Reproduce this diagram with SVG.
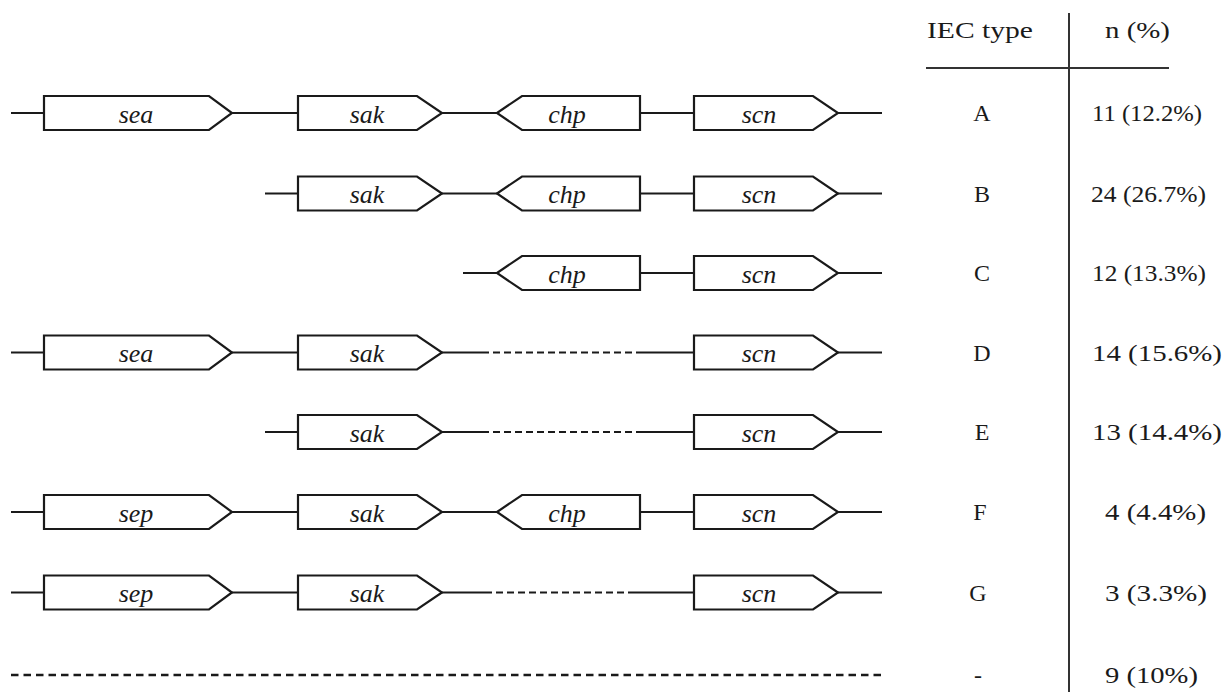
<svg xmlns="http://www.w3.org/2000/svg" xmlns:xlink="http://www.w3.org/1999/xlink" width="1224" height="692" viewBox="0 0 1224 692">
<style>
.gene{fill:#fff;stroke:#1a1a1a;stroke-width:2.2;stroke-linejoin:miter}
.lbl{font-family:"Liberation Serif","Times New Roman",serif;font-style:italic;font-size:26px;fill:#1a1a1a;text-anchor:middle}
.ln{stroke:#1a1a1a;stroke-width:2;fill:none}
.dash{stroke:#1a1a1a;stroke-width:2.2;fill:none;stroke-dasharray:7 4}
.bdash{stroke:#1a1a1a;stroke-width:2.4;fill:none;stroke-dasharray:7.5 5}
.tx{font-family:"Liberation Serif","Times New Roman",serif;font-size:24px;fill:#1a1a1a}
.c{text-anchor:middle}
.rule{stroke:#333;stroke-width:2;fill:none}
</style>
<defs>
<path id="fwdLong" d="M0,-17 H165 L188,0 L165,17 H0 Z"/>
<path id="fwd" d="M0,-17 H119 L144,0 L119,17 H0 Z"/>
<path id="rev" d="M0,0 L25,-17 H143 V17 H25 Z"/>
</defs>
<rect width="1224" height="692" fill="#fff"/>

<g id="connectors">
<path class="ln" d="M11,113 H44 M232,113 H298 M442,113 H497 M640,113 H694 M838,113 H882"/>
<path class="ln" d="M265,193.5 H298 M442,193.5 H497 M640,193.5 H694 M838,193.5 H882"/>
<path class="ln" d="M463,273 H497 M640,273 H694 M838,273 H882"/>
<path class="ln" d="M11,352.5 H44 M232,352.5 H298 M442,352.5 H482 M640,352.5 H694 M838,352.5 H882"/>
<path class="dash" d="M482,352.5 H640"/>
<path class="ln" d="M265,432 H298 M442,432 H482 M640,432 H694 M838,432 H882"/>
<path class="dash" d="M482,432 H640"/>
<path class="ln" d="M11,512 H44 M232,512 H298 M442,512 H497 M640,512 H694 M838,512 H882"/>
<path class="ln" d="M11,592.5 H44 M232,592.5 H298 M442,592.5 H485 M635,592.5 H694 M838,592.5 H882"/>
<path class="dash" d="M485,592.5 H635"/>
<path class="bdash" d="M11,675 H883"/>
</g>

<g id="A-sea" transform="translate(44,113)"><use href="#fwdLong" class="gene"/><text class="lbl" x="92" y="9.5">sea</text></g>
<g id="A-sak" transform="translate(298,113)"><use href="#fwd" class="gene"/><text class="lbl" x="69" y="9.5">sak</text></g>
<g id="A-chp" transform="translate(497,113)"><use href="#rev" class="gene"/><text class="lbl" x="70" y="9.5">chp</text></g>
<g id="A-scn" transform="translate(694,113)"><use href="#fwd" class="gene"/><text class="lbl" x="65" y="9.5">scn</text></g>

<g id="B-sak" transform="translate(298,193.5)"><use href="#fwd" class="gene"/><text class="lbl" x="69" y="9.5">sak</text></g>
<g id="B-chp" transform="translate(497,193.5)"><use href="#rev" class="gene"/><text class="lbl" x="70" y="9.5">chp</text></g>
<g id="B-scn" transform="translate(694,193.5)"><use href="#fwd" class="gene"/><text class="lbl" x="65" y="9.5">scn</text></g>

<g id="C-chp" transform="translate(497,273)"><use href="#rev" class="gene"/><text class="lbl" x="70" y="9.5">chp</text></g>
<g id="C-scn" transform="translate(694,273)"><use href="#fwd" class="gene"/><text class="lbl" x="65" y="9.5">scn</text></g>

<g id="D-sea" transform="translate(44,352.5)"><use href="#fwdLong" class="gene"/><text class="lbl" x="92" y="9.5">sea</text></g>
<g id="D-sak" transform="translate(298,352.5)"><use href="#fwd" class="gene"/><text class="lbl" x="69" y="9.5">sak</text></g>
<g id="D-scn" transform="translate(694,352.5)"><use href="#fwd" class="gene"/><text class="lbl" x="65" y="9.5">scn</text></g>

<g id="E-sak" transform="translate(298,432)"><use href="#fwd" class="gene"/><text class="lbl" x="69" y="9.5">sak</text></g>
<g id="E-scn" transform="translate(694,432)"><use href="#fwd" class="gene"/><text class="lbl" x="65" y="9.5">scn</text></g>

<g id="F-sep" transform="translate(44,512)"><use href="#fwdLong" class="gene"/><text class="lbl" x="92" y="9.5">sep</text></g>
<g id="F-sak" transform="translate(298,512)"><use href="#fwd" class="gene"/><text class="lbl" x="69" y="9.5">sak</text></g>
<g id="F-chp" transform="translate(497,512)"><use href="#rev" class="gene"/><text class="lbl" x="70" y="9.5">chp</text></g>
<g id="F-scn" transform="translate(694,512)"><use href="#fwd" class="gene"/><text class="lbl" x="65" y="9.5">scn</text></g>

<g id="G-sep" transform="translate(44,592.5)"><use href="#fwdLong" class="gene"/><text class="lbl" x="92" y="9.5">sep</text></g>
<g id="G-sak" transform="translate(298,592.5)"><use href="#fwd" class="gene"/><text class="lbl" x="69" y="9.5">sak</text></g>
<g id="G-scn" transform="translate(694,592.5)"><use href="#fwd" class="gene"/><text class="lbl" x="65" y="9.5">scn</text></g>

<g id="table">
<path class="rule" d="M1069,13 V692 M926,68 H1169"/>
<text class="tx" x="927" y="38" textLength="106" lengthAdjust="spacingAndGlyphs">IEC type</text>
<text class="tx" x="1105" y="38" textLength="65" lengthAdjust="spacingAndGlyphs">n (%)</text>
<text class="tx c" x="982" y="121">A</text>
<text class="tx c" x="982" y="201.5">B</text>
<text class="tx c" x="982" y="281">C</text>
<text class="tx c" x="982" y="360.5">D</text>
<text class="tx c" x="982" y="440">E</text>
<text class="tx c" x="980" y="520">F</text>
<text class="tx c" x="978" y="600.5">G</text>
<text class="tx c" x="978" y="683">-</text>
<text class="tx" x="1092" y="121" textLength="110" lengthAdjust="spacingAndGlyphs">11 (12.2%)</text>
<text class="tx" x="1091" y="201.5" textLength="115" lengthAdjust="spacingAndGlyphs">24 (26.7%)</text>
<text class="tx" x="1092" y="281" textLength="114" lengthAdjust="spacingAndGlyphs">12 (13.3%)</text>
<text class="tx" x="1092" y="360.5" textLength="130" lengthAdjust="spacingAndGlyphs">14 (15.6%)</text>
<text class="tx" x="1092" y="440" textLength="130" lengthAdjust="spacingAndGlyphs">13 (14.4%)</text>
<text class="tx" x="1105" y="520" textLength="101" lengthAdjust="spacingAndGlyphs">4 (4.4%)</text>
<text class="tx" x="1105" y="600.5" textLength="102" lengthAdjust="spacingAndGlyphs">3 (3.3%)</text>
<text class="tx" x="1105" y="683" textLength="93" lengthAdjust="spacingAndGlyphs">9 (10%)</text>
</g>
</svg>
